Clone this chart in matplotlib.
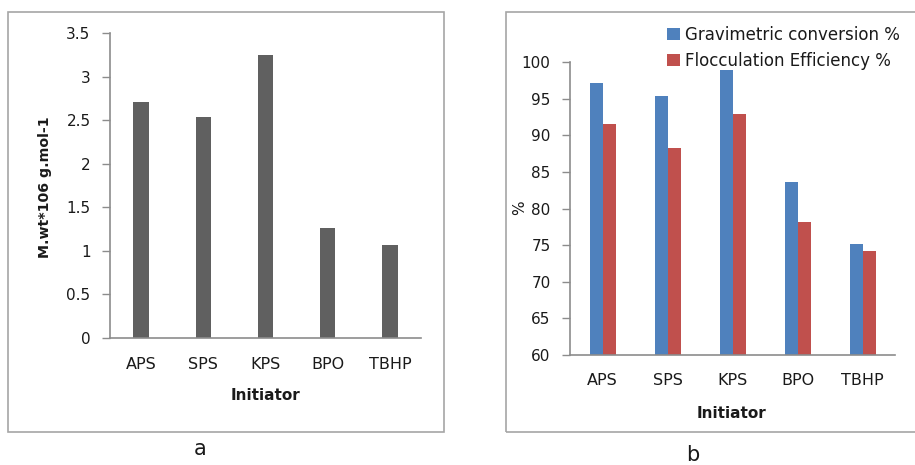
import matplotlib

matplotlib.use("Agg")

import matplotlib.pyplot as plt
from matplotlib.patches import Rectangle
import numpy as np

# data
initiators = ["APS", "SPS", "KPS", "BPO", "TBHP"]
mol_weight = [2.71, 2.54, 3.25, 1.26, 1.07]          # M.wt * 10^6 g/mol
grav_conversion = [97.1, 95.3, 98.9, 83.6, 75.2]     # %
floc_efficiency = [91.6, 88.3, 92.9, 78.1, 74.2]     # %
left_yticks = [0, 0.5, 1, 1.5, 2, 2.5, 3, 3.5]
left_yticklabels = ["0", "0.5", "1", "1.5", "2", "2.5", "3", "3.5"]
right_yticks = [60, 65, 70, 75, 80, 85, 90, 95, 100]

W, H = 915, 465
AXIS_GREY = "#8c8c8c"
BORDER_GREY = "#a6a6a6"
TEXT = "#1a1a1a"
plt.rcParams["font.family"] = ["DejaVu Sans"]


def fx(px):
    return px / W


def fy(py):
    return 1.0 - py / H


def style_axis(ax, xpad, ypad):
    for side in ("top", "right"):
        ax.spines[side].set_visible(False)
    for side in ("left", "bottom"):
        ax.spines[side].set_color(AXIS_GREY)
        ax.spines[side].set_linewidth(1.2)
    ax.tick_params(axis="y", direction="out", length=6, width=1, color=AXIS_GREY,
                   labelcolor=TEXT, labelsize=11, pad=ypad)
    ax.tick_params(axis="x", length=0, labelcolor=TEXT, labelsize=11.5, pad=xpad)


fig = plt.figure(figsize=(W / 100, H / 100), dpi=100)

# panel frames
fig.patches.append(Rectangle((fx(8), fy(432)), fx(436), 420 / H, transform=fig.transFigure,
                             fill=False, edgecolor=BORDER_GREY, linewidth=1.2))
fig.patches.append(Rectangle((fx(506), fy(432)), fx(420), 420 / H, transform=fig.transFigure,
                             fill=False, edgecolor=BORDER_GREY, linewidth=1.2))

x = np.arange(len(initiators))

# panel a
ax1 = fig.add_axes([fx(110), fy(338), fx(311), (338 - 33) / H])
ax1.bar(x, mol_weight, width=0.25, color="#606060")
ax1.set_xlim(-0.5, len(initiators) - 0.5)
ax1.set_ylim(0, 3.5)
ax1.set_yticks(left_yticks)
ax1.set_yticklabels(left_yticklabels)
ax1.set_xticks(x)
ax1.set_xticklabels(initiators)
style_axis(ax1, xpad=14, ypad=8)
fig.text(fx(265), fy(396), "Initiator", ha="center", va="center", fontsize=11,
         fontweight="bold", color=TEXT)
fig.text(fx(45), fy(187), "M.wt*106 g.mol-1", ha="center", va="center", rotation=90,
         fontsize=10.2, fontweight="bold", color=TEXT)
fig.text(fx(200), fy(449), "a", ha="center", va="center", fontsize=15, color=TEXT)

# panel b
ax2 = fig.add_axes([fx(570), fy(355), fx(325), (355 - 62) / H])
w = 0.2
ax2.bar(x - w / 2, grav_conversion, width=w, color="#4F81BD", label="Gravimetric conversion %")
ax2.bar(x + w / 2, floc_efficiency, width=w, color="#C0504D", label="Flocculation Efficiency %")
ax2.set_xlim(-0.5, len(initiators) - 0.5)
ax2.set_ylim(60, 100)
ax2.set_yticks(right_yticks)
ax2.set_xticks(x)
ax2.set_xticklabels(initiators)
style_axis(ax2, xpad=13, ypad=8)
fig.text(fx(732), fy(413), "Initiator", ha="center", va="center", fontsize=11,
         fontweight="bold", color=TEXT)
fig.text(fx(520), fy(208), "%", ha="center", va="center", rotation=90, fontsize=11,
         color=TEXT)
fig.text(fx(693), fy(455), "b", ha="center", va="center", fontsize=15, color=TEXT)

ax2.legend(loc="upper left", bbox_to_anchor=(fx(667), fy(26)), bbox_transform=fig.transFigure,
           frameon=False, fontsize=12, handlelength=0.75, handleheight=0.75,
           handletextpad=0.35, labelspacing=0.45, borderpad=0, borderaxespad=0,
           labelcolor=TEXT)

fig.savefig("out.png", dpi=100)
